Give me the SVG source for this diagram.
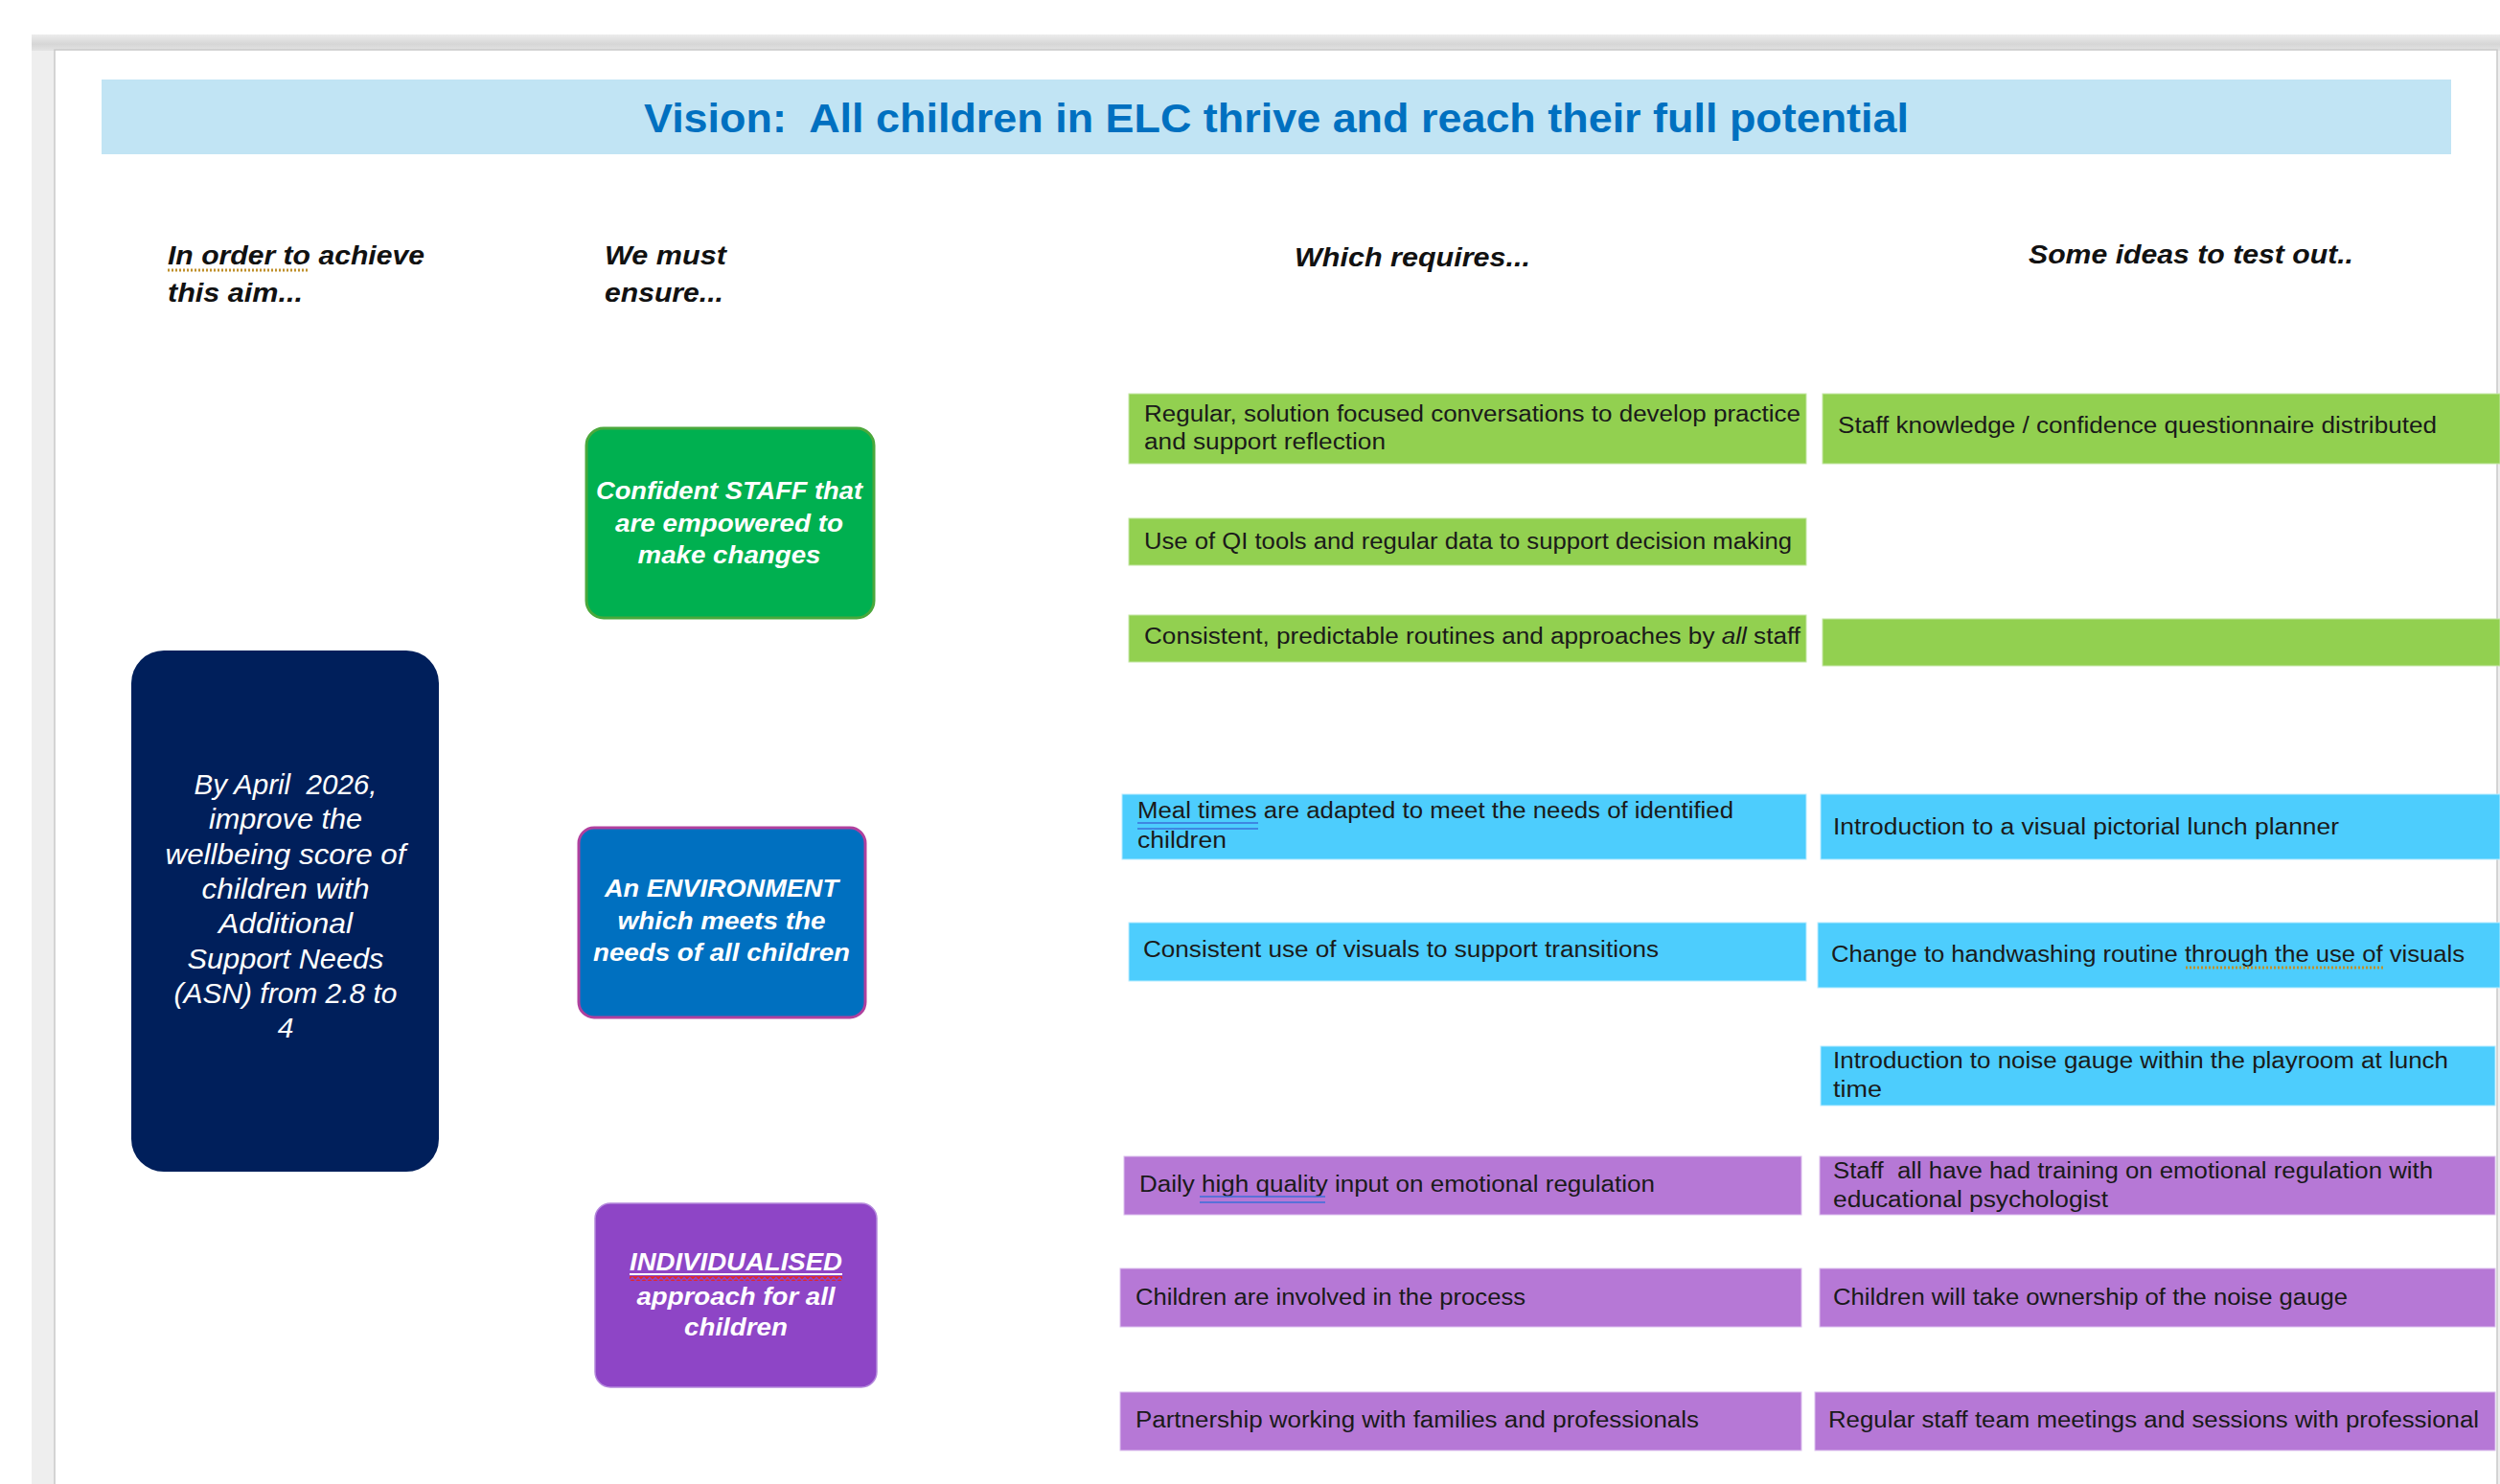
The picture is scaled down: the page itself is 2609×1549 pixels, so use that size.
<svg xmlns="http://www.w3.org/2000/svg" width="2609" height="1549" viewBox="0 0 2609 1549">
<defs>
<linearGradient id="topband" x1="0" y1="0" x2="0" y2="1">
<stop offset="0" stop-color="#ececec"/>
<stop offset="0.6" stop-color="#d6d6d6"/>
<stop offset="1" stop-color="#e4e4e4"/>
</linearGradient>
<pattern id="wavy" x="0" y="0" width="6" height="5" patternUnits="userSpaceOnUse">
<path d="M0,1 L3,4 L6,1" fill="none" stroke="#e0282e" stroke-width="2"/>
</pattern>
</defs>
<style>
text{font-family:"Liberation Sans",Arial,sans-serif}
.hdr{font-size:28px;font-weight:bold;font-style:italic;fill:#111}
.title{font-size:42px;font-weight:bold;fill:#0070c0}
.node{font-size:26px;font-weight:bold;font-style:italic;fill:#fff;text-anchor:middle}
.aim{font-size:30px;font-style:italic;fill:#fff;text-anchor:middle}
.bt{font-size:23px;fill:#1a1a1a}
.g{fill:#92d050;stroke:#c4e6a4;stroke-width:1}
.b{fill:#4dcdfd;stroke:#b8ecff;stroke-width:1}
.p{fill:#b678d6;stroke:#dcc0ee;stroke-width:1}
.dot{stroke:#c0902a;stroke-width:3;stroke-dasharray:2 2;fill:none}
.dbl{stroke:#3a6fd8;stroke-width:1.6;fill:none}
</style>
<rect x="0" y="0" width="2609" height="1549" fill="#ffffff"/>
<rect x="33" y="36" width="2576" height="1513" fill="#eeeeee"/>
<rect x="33" y="36" width="2576" height="17" fill="url(#topband)"/>
<rect x="57" y="52" width="2549" height="1500" fill="#ffffff" stroke="#c9c9c9" stroke-width="1.5"/>
<rect x="106" y="83" width="2452" height="78" fill="#c1e4f4"/>
<text class="title" x="1332" y="138" text-anchor="middle" textLength="1320" lengthAdjust="spacingAndGlyphs">Vision:&#160; All children in ELC thrive and reach their full potential</text>
<g id="headers">
<text class="hdr" x="175" y="276" textLength="268" lengthAdjust="spacingAndGlyphs">In order to achieve</text>
<text class="hdr" x="175" y="315" textLength="141" lengthAdjust="spacingAndGlyphs">this aim...</text>
<line class="dot" x1="175" y1="282" x2="321" y2="282"/>
<text class="hdr" x="631" y="276" textLength="127" lengthAdjust="spacingAndGlyphs">We must</text>
<text class="hdr" x="631" y="315" textLength="124" lengthAdjust="spacingAndGlyphs">ensure...</text>
<text class="hdr" x="1351" y="278" textLength="246" lengthAdjust="spacingAndGlyphs">Which requires...</text>
<text class="hdr" x="2117" y="275" textLength="339" lengthAdjust="spacingAndGlyphs">Some ideas to test out..</text>
</g>
<g id="aim">
<rect x="137" y="679" width="321" height="544" rx="34" fill="#001f5b"/>
<text class="aim" x="298" y="829" textLength="191" lengthAdjust="spacingAndGlyphs">By April&#160; 2026,</text>
<text class="aim" x="298" y="865" textLength="160" lengthAdjust="spacingAndGlyphs">improve the</text>
<text class="aim" x="298" y="902" textLength="251" lengthAdjust="spacingAndGlyphs">wellbeing score of</text>
<text class="aim" x="298" y="938" textLength="175" lengthAdjust="spacingAndGlyphs">children with</text>
<text class="aim" x="298" y="974" textLength="140" lengthAdjust="spacingAndGlyphs">Additional</text>
<text class="aim" x="298" y="1011" textLength="205" lengthAdjust="spacingAndGlyphs">Support Needs</text>
<text class="aim" x="298" y="1047" textLength="233" lengthAdjust="spacingAndGlyphs">(ASN) from 2.8 to</text>
<text class="aim" x="298" y="1083">4</text>
</g>
<g id="staff">
<rect x="612" y="447" width="300" height="198" rx="18" fill="#00b050" stroke="#4aa83c" stroke-width="3"/>
<text class="node" x="761" y="521" textLength="278" lengthAdjust="spacingAndGlyphs">Confident STAFF that</text>
<text class="node" x="761" y="555" textLength="238" lengthAdjust="spacingAndGlyphs">are empowered to</text>
<text class="node" x="761" y="588" textLength="191" lengthAdjust="spacingAndGlyphs">make changes</text>
</g>
<g id="environment">
<rect x="604" y="864" width="299" height="198" rx="16" fill="#0070c0" stroke="#b0409e" stroke-width="3"/>
<text class="node" x="753" y="936" textLength="244" lengthAdjust="spacingAndGlyphs">An ENVIRONMENT</text>
<text class="node" x="753" y="970" textLength="217" lengthAdjust="spacingAndGlyphs">which meets the</text>
<text class="node" x="753" y="1003" textLength="268" lengthAdjust="spacingAndGlyphs">needs of all children</text>
</g>
<g id="individualised">
<rect x="621" y="1256" width="294" height="192" rx="16" fill="#8e45c6" stroke="#b488dc" stroke-width="1.5"/>
<text class="node" x="768" y="1326" textLength="222" lengthAdjust="spacingAndGlyphs">INDIVIDUALISED</text>
<line x1="657" y1="1330" x2="879" y2="1330" stroke="#ffffff" stroke-width="2"/>
<rect x="657" y="1332" width="222" height="5" fill="url(#wavy)"/>
<text class="node" x="768" y="1362" textLength="207" lengthAdjust="spacingAndGlyphs">approach for all</text>
<text class="node" x="768" y="1394" textLength="108" lengthAdjust="spacingAndGlyphs">children</text>
</g>
<g id="req-staff-1">
<rect class="g" x="1178" y="411" width="707" height="73"/>
<text class="bt" x="1194" y="440" textLength="685" lengthAdjust="spacingAndGlyphs">Regular, solution focused conversations to develop practice</text>
<text class="bt" x="1194" y="469" textLength="252" lengthAdjust="spacingAndGlyphs">and support reflection</text>
</g>
<g id="idea-staff-1">
<rect class="g" x="1902" y="411" width="707" height="73"/>
<text class="bt" x="1918" y="452" textLength="625" lengthAdjust="spacingAndGlyphs">Staff knowledge / confidence questionnaire distributed</text>
</g>
<g id="req-staff-2">
<rect class="g" x="1178" y="541" width="707" height="49"/>
<text class="bt" x="1194" y="573" textLength="676" lengthAdjust="spacingAndGlyphs">Use of QI tools and regular data to support decision making</text>
</g>
<g id="req-staff-3">
<rect class="g" x="1178" y="642" width="707" height="49"/>
<text class="bt" x="1194" y="672" textLength="685" lengthAdjust="spacingAndGlyphs">Consistent, predictable routines and approaches by <tspan font-style="italic">all</tspan> staff</text>
</g>
<g id="idea-staff-3">
<rect class="g" x="1902" y="646" width="707" height="49"/>
</g>
<g id="req-env-1">
<rect class="b" x="1171" y="829" width="714" height="68"/>
<text class="bt" x="1187" y="854" textLength="622" lengthAdjust="spacingAndGlyphs">Meal times are adapted to meet the needs of identified</text>
<text class="bt" x="1187" y="885" textLength="93" lengthAdjust="spacingAndGlyphs">children</text>
<line class="dbl" x1="1187" y1="859" x2="1313" y2="859"/>
<line class="dbl" x1="1187" y1="865" x2="1313" y2="865"/>
</g>
<g id="idea-env-1">
<rect class="b" x="1900" y="829" width="709" height="68"/>
<text class="bt" x="1913" y="871" textLength="528" lengthAdjust="spacingAndGlyphs">Introduction to a visual pictorial lunch planner</text>
</g>
<g id="req-env-2">
<rect class="b" x="1178" y="963" width="707" height="61"/>
<text class="bt" x="1193" y="999" textLength="538" lengthAdjust="spacingAndGlyphs">Consistent use of visuals to support transitions</text>
</g>
<g id="idea-env-2">
<rect class="b" x="1897" y="963" width="712" height="68"/>
<text class="bt" x="1911" y="1004" textLength="661" lengthAdjust="spacingAndGlyphs">Change to handwashing routine through the use of visuals</text>
<line class="dot" x1="2281" y1="1010" x2="2487" y2="1010" stroke-width="2"/>
</g>
<g id="idea-env-3">
<rect class="b" x="1900" y="1092" width="704" height="62"/>
<text class="bt" x="1913" y="1115" textLength="642" lengthAdjust="spacingAndGlyphs">Introduction to noise gauge within the playroom at lunch</text>
<text class="bt" x="1913" y="1145" textLength="51" lengthAdjust="spacingAndGlyphs">time</text>
</g>
<g id="req-ind-1">
<rect class="p" x="1173" y="1207" width="707" height="61"/>
<text class="bt" x="1189" y="1244" textLength="538" lengthAdjust="spacingAndGlyphs">Daily high quality input on emotional regulation</text>
<line class="dbl" x1="1252" y1="1249" x2="1383" y2="1249"/>
<line class="dbl" x1="1252" y1="1255" x2="1383" y2="1255"/>
</g>
<g id="idea-ind-1">
<rect class="p" x="1899" y="1207" width="705" height="61"/>
<text class="bt" x="1913" y="1230" textLength="626" lengthAdjust="spacingAndGlyphs">Staff&#160; all have had training on emotional regulation with</text>
<text class="bt" x="1913" y="1260" textLength="287" lengthAdjust="spacingAndGlyphs">educational psychologist</text>
</g>
<g id="req-ind-2">
<rect class="p" x="1169" y="1324" width="711" height="61"/>
<text class="bt" x="1185" y="1362" textLength="407" lengthAdjust="spacingAndGlyphs">Children are involved in the process</text>
</g>
<g id="idea-ind-2">
<rect class="p" x="1899" y="1324" width="705" height="61"/>
<text class="bt" x="1913" y="1362" textLength="537" lengthAdjust="spacingAndGlyphs">Children will take ownership of the noise gauge</text>
</g>
<g id="req-ind-3">
<rect class="p" x="1169" y="1453" width="711" height="61"/>
<text class="bt" x="1185" y="1490" textLength="588" lengthAdjust="spacingAndGlyphs">Partnership working with families and professionals</text>
</g>
<g id="idea-ind-3">
<rect class="p" x="1894" y="1453" width="710" height="61"/>
<text class="bt" x="1908" y="1490" textLength="679" lengthAdjust="spacingAndGlyphs">Regular staff team meetings and sessions with professional</text>
</g>
<g id="connectors"/>
</svg>
